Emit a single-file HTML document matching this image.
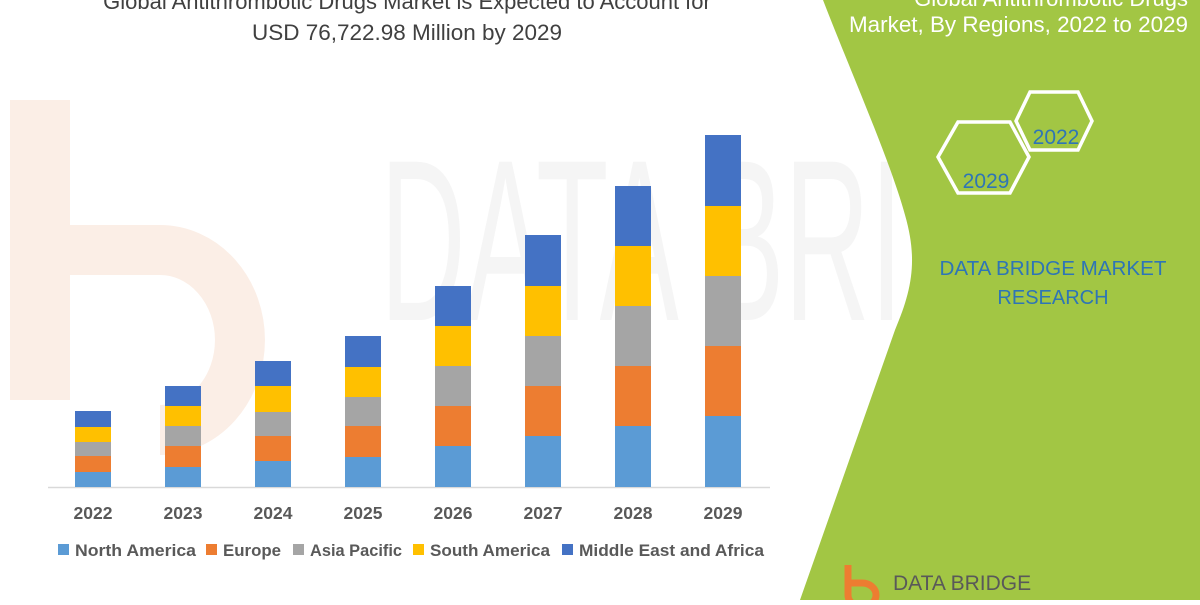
<!DOCTYPE html>
<html><head><meta charset="utf-8"><style>
body{margin:0;width:1200px;height:600px;overflow:hidden;background:#fff;font-family:"Liberation Sans",sans-serif}
</style></head><body>
<svg width="1200" height="600" xmlns="http://www.w3.org/2000/svg" font-family="Liberation Sans, sans-serif">
<rect width="1200" height="600" fill="#fff"/>
<path d="M40,100 v300" stroke="#fbeee6" stroke-width="60"/>
<path d="M40,250 h120 a80,90 0 0 1 0,180" fill="none" stroke="#fbeee6" stroke-width="50"/>
<text x="380" y="320" font-size="230" fill="#f5f5f5" textLength="780" lengthAdjust="spacingAndGlyphs">DATA BRIDGE</text>
<path d="M823,0 C850,70 890,160 905,215 C918,260 912,290 895,330 L800,600 L1200,600 L1200,0 Z" fill="#a2c644"/>
<text x="1188" y="6" font-size="22" fill="#fff" text-anchor="end">Global Antithrombotic Drugs</text>
<text x="1188" y="32" font-size="22" fill="#fff" text-anchor="end" textLength="339" lengthAdjust="spacingAndGlyphs">Market, By Regions, 2022 to 2029</text>
<text x="407" y="9" font-size="22" fill="#404040" text-anchor="middle">Global Antithrombotic Drugs Market is Expected to Account for</text>
<text x="407" y="40" font-size="22" fill="#404040" text-anchor="middle" textLength="310" lengthAdjust="spacingAndGlyphs">USD 76,722.98 Million by 2029</text>
<polygon points="1030,92 1078,92 1092,121 1078,150 1030,150 1016,121" fill="none" stroke="#fff" stroke-width="3.5"/>
<polygon points="958,122 1010,122 1029,157 1010,193 958,193 938,157" fill="none" stroke="#fff" stroke-width="3.5"/>
<text x="1056" y="144" font-size="21" fill="#2e75b6" text-anchor="middle">2022</text>
<text x="986" y="188" font-size="21" fill="#2e75b6" text-anchor="middle">2029</text>
<text x="1053" y="275" font-size="20" fill="#2e75b6" text-anchor="middle" textLength="227" lengthAdjust="spacingAndGlyphs">DATA BRIDGE MARKET</text>
<text x="1053" y="304" font-size="20" fill="#2e75b6" text-anchor="middle">RESEARCH</text>
<path d="M848,565 v30 a14,12 0 1 0 14,-12 h-14" fill="none" stroke="#ed7d31" stroke-width="7"/>
<text x="893" y="590" font-size="21" fill="#595959">DATA BRIDGE</text>
<line x1="48" y1="487.5" x2="770" y2="487.5" stroke="#d9d9d9" stroke-width="1.5"/>
<g font-size="17.5" font-weight="bold" fill="#595959" text-anchor="middle">
<text x="93" y="519">2022</text><text x="183" y="519">2023</text><text x="273" y="519">2024</text><text x="363" y="519">2025</text><text x="453" y="519">2026</text><text x="543" y="519">2027</text><text x="633" y="519">2028</text><text x="723" y="519">2029</text>
</g>
<g font-size="17" font-weight="bold" fill="#595959">
<rect x="58" y="544" width="11" height="11" fill="#5b9bd5"/><text x="75" y="556" textLength="121" lengthAdjust="spacingAndGlyphs">North America</text>
<rect x="206" y="544" width="11" height="11" fill="#ed7d31"/><text x="223" y="556" textLength="58" lengthAdjust="spacingAndGlyphs">Europe</text>
<rect x="293" y="544" width="11" height="11" fill="#a5a5a5"/><text x="310" y="556" textLength="92" lengthAdjust="spacingAndGlyphs">Asia Pacific</text>
<rect x="413" y="544" width="11" height="11" fill="#ffc000"/><text x="430" y="556" textLength="120" lengthAdjust="spacingAndGlyphs">South America</text>
<rect x="562" y="544" width="11" height="11" fill="#4472c4"/><text x="579" y="556" textLength="185" lengthAdjust="spacingAndGlyphs">Middle East and Africa</text>
</g>
<g>
<rect x="75" y="472" width="36" height="15" fill="#5b9bd5"/><rect x="75" y="456" width="36" height="16" fill="#ed7d31"/><rect x="75" y="442" width="36" height="14" fill="#a5a5a5"/><rect x="75" y="427" width="36" height="15" fill="#ffc000"/><rect x="75" y="411" width="36" height="16" fill="#4472c4"/>
<rect x="165" y="467" width="36" height="20" fill="#5b9bd5"/><rect x="165" y="446" width="36" height="21" fill="#ed7d31"/><rect x="165" y="426" width="36" height="20" fill="#a5a5a5"/><rect x="165" y="406" width="36" height="20" fill="#ffc000"/><rect x="165" y="386" width="36" height="20" fill="#4472c4"/>
<rect x="255" y="461" width="36" height="26" fill="#5b9bd5"/><rect x="255" y="436" width="36" height="25" fill="#ed7d31"/><rect x="255" y="412" width="36" height="24" fill="#a5a5a5"/><rect x="255" y="386" width="36" height="26" fill="#ffc000"/><rect x="255" y="361" width="36" height="25" fill="#4472c4"/>
<rect x="345" y="457" width="36" height="30" fill="#5b9bd5"/><rect x="345" y="426" width="36" height="31" fill="#ed7d31"/><rect x="345" y="397" width="36" height="29" fill="#a5a5a5"/><rect x="345" y="367" width="36" height="30" fill="#ffc000"/><rect x="345" y="336" width="36" height="31" fill="#4472c4"/>
<rect x="435" y="446" width="36" height="41" fill="#5b9bd5"/><rect x="435" y="406" width="36" height="40" fill="#ed7d31"/><rect x="435" y="366" width="36" height="40" fill="#a5a5a5"/><rect x="435" y="326" width="36" height="40" fill="#ffc000"/><rect x="435" y="286" width="36" height="40" fill="#4472c4"/>
<rect x="525" y="436" width="36" height="51" fill="#5b9bd5"/><rect x="525" y="386" width="36" height="50" fill="#ed7d31"/><rect x="525" y="336" width="36" height="50" fill="#a5a5a5"/><rect x="525" y="286" width="36" height="50" fill="#ffc000"/><rect x="525" y="235" width="36" height="51" fill="#4472c4"/>
<rect x="615" y="426" width="36" height="61" fill="#5b9bd5"/><rect x="615" y="366" width="36" height="60" fill="#ed7d31"/><rect x="615" y="306" width="36" height="60" fill="#a5a5a5"/><rect x="615" y="246" width="36" height="60" fill="#ffc000"/><rect x="615" y="186" width="36" height="60" fill="#4472c4"/>
<rect x="705" y="416" width="36" height="71" fill="#5b9bd5"/><rect x="705" y="346" width="36" height="70" fill="#ed7d31"/><rect x="705" y="276" width="36" height="70" fill="#a5a5a5"/><rect x="705" y="206" width="36" height="70" fill="#ffc000"/><rect x="705" y="135" width="36" height="71" fill="#4472c4"/>
</g>
</svg>
</body></html>
